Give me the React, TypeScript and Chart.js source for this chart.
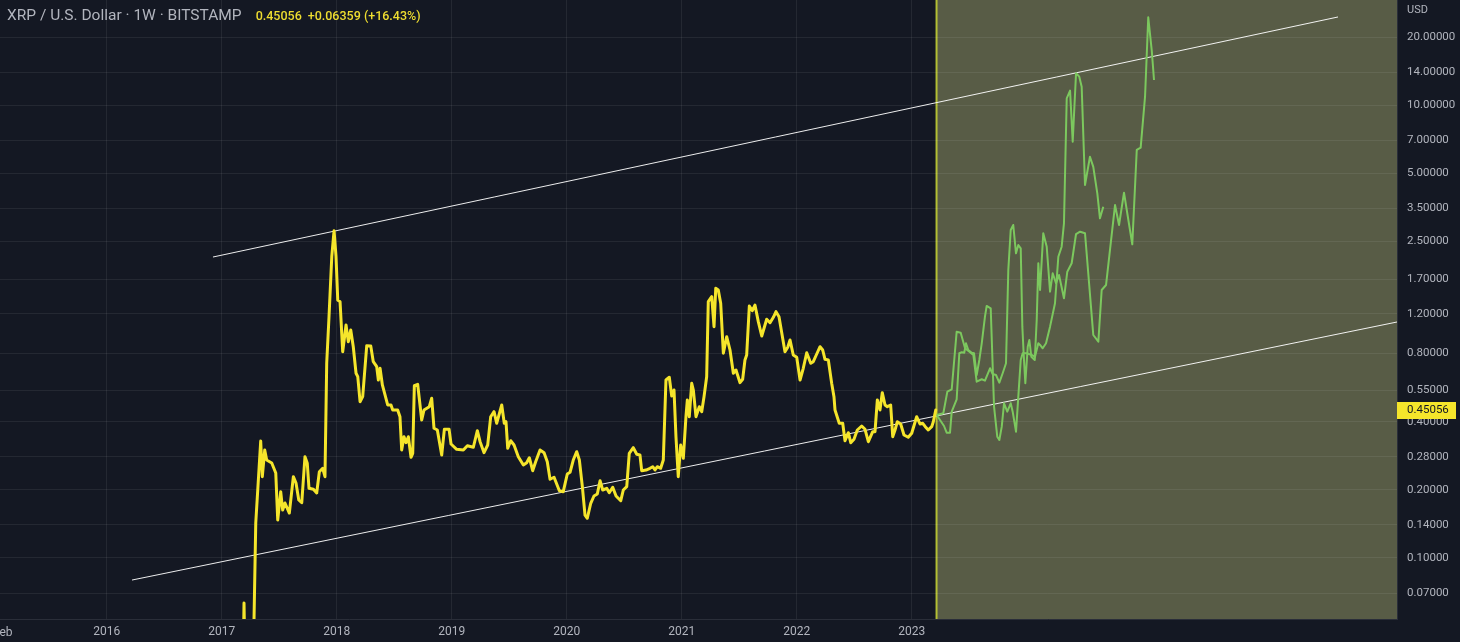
import React, { useEffect, useRef } from "react";
import { Chart, registerables } from "chart.js";

Chart.register(...registerables);

// ---- Data (x in fractional years, y in USD) ----
const xrpWeeks = [
  2017.120, 2017.168, 2017.194, 2017.220, 2017.250, 2017.272, 2017.296, 2017.339, 2017.353, 2017.374,
  2017.391, 2017.435, 2017.470, 2017.487, 2017.513, 2017.530, 2017.550, 2017.588, 2017.623, 2017.646,
  2017.670, 2017.696, 2017.724, 2017.744, 2017.759, 2017.797, 2017.826, 2017.849, 2017.878, 2017.898,
  2017.913, 2017.933, 2017.957, 2017.977, 2017.994, 2018.009, 2018.029, 2018.052, 2018.081, 2018.101,
  2018.122, 2018.144, 2018.168, 2018.183, 2018.203, 2018.226, 2018.261, 2018.296, 2018.318, 2018.348,
  2018.362, 2018.377, 2018.397, 2018.420, 2018.443, 2018.472, 2018.487, 2018.530, 2018.550, 2018.565,
  2018.585, 2018.603, 2018.623, 2018.646, 2018.661, 2018.675, 2018.704, 2018.739, 2018.759, 2018.805,
  2018.826, 2018.846, 2018.875, 2018.913, 2018.936, 2018.977, 2018.994, 2019.043, 2019.101, 2019.136,
  2019.188, 2019.223, 2019.246, 2019.281, 2019.313, 2019.339, 2019.368, 2019.391, 2019.435, 2019.457,
  2019.472, 2019.487, 2019.513, 2019.542, 2019.579, 2019.623, 2019.652, 2019.675, 2019.704, 2019.730,
  2019.768, 2019.803, 2019.831, 2019.855, 2019.890, 2019.936, 2019.970, 2020.005, 2020.029, 2020.057,
  2020.087, 2020.110, 2020.136, 2020.159, 2020.179, 2020.209, 2020.237, 2020.266, 2020.290, 2020.313,
  2020.348, 2020.370, 2020.400, 2020.429, 2020.470, 2020.492, 2020.522, 2020.544, 2020.579, 2020.609,
  2020.637, 2020.652, 2020.690, 2020.724, 2020.748, 2020.768, 2020.788, 2020.817, 2020.840, 2020.863,
  2020.892, 2020.913, 2020.933, 2020.950, 2020.970, 2020.991, 2021.014, 2021.037, 2021.049, 2021.066,
  2021.087, 2021.101, 2021.124, 2021.153, 2021.174, 2021.194, 2021.217, 2021.231, 2021.261, 2021.281,
  2021.296, 2021.318, 2021.339, 2021.362, 2021.391, 2021.420, 2021.449, 2021.472, 2021.507, 2021.530,
  2021.550, 2021.565, 2021.588, 2021.614, 2021.637, 2021.666, 2021.696, 2021.739, 2021.768, 2021.797,
  2021.820, 2021.846, 2021.898, 2021.922, 2021.942, 2021.970, 2022.000, 2022.029, 2022.057, 2022.087,
  2022.122, 2022.144, 2022.174, 2022.203, 2022.226, 2022.246, 2022.275, 2022.304, 2022.324, 2022.333,
  2022.370, 2022.400, 2022.420, 2022.449, 2022.470, 2022.498, 2022.527, 2022.565, 2022.594, 2022.623,
  2022.661, 2022.681, 2022.701, 2022.724, 2022.744, 2022.768, 2022.788, 2022.817, 2022.835, 2022.855,
  2022.875, 2022.904, 2022.933, 2022.970, 2023.000, 2023.043, 2023.072, 2023.096, 2023.118, 2023.144,
  2023.174, 2023.188, 2023.209,
];
const xrpClose = [
  0.0065, 0.007, 0.0632, 0.008, 0.012, 0.03, 0.1427, 0.3286, 0.2285, 0.2998,
  0.2708, 0.2627, 0.2372, 0.1471, 0.1962, 0.1628, 0.1749, 0.1579, 0.2285, 0.2144,
  0.1803, 0.1754, 0.2800, 0.2619, 0.2031, 0.2010, 0.1936, 0.2404, 0.2489, 0.2285,
  0.7244, 1.163, 2.141, 2.789, 2.141, 1.379, 1.355, 0.8148, 1.069, 0.902,
  1.016, 0.857, 0.6543, 0.6319, 0.4901, 0.5157, 0.866, 0.863, 0.736, 0.6995,
  0.6111, 0.6883, 0.5808, 0.5246, 0.4739, 0.4739, 0.4504, 0.4504, 0.4206, 0.2998,
  0.3432, 0.3229, 0.3432, 0.2784, 0.2899, 0.5767, 0.5849, 0.4068, 0.4504, 0.4657,
  0.5073, 0.3739, 0.3675, 0.2849, 0.3701, 0.3701, 0.3187, 0.3020, 0.2998, 0.3132,
  0.3083, 0.3649, 0.3270, 0.2917, 0.3154, 0.4206, 0.4427, 0.3934, 0.4739, 0.3934,
  0.3998, 0.3050, 0.3295, 0.3154, 0.2800, 0.2574, 0.2635, 0.2772, 0.2429, 0.2662,
  0.2998, 0.2917, 0.2662, 0.2226, 0.2272, 0.1982, 0.1962, 0.2349, 0.2390, 0.2708,
  0.2947, 0.2708, 0.2064, 0.1547, 0.1497, 0.1744, 0.1878, 0.1916, 0.2194, 0.1996,
  0.2031, 0.1942, 0.2052, 0.1878, 0.1790, 0.1996, 0.2064, 0.2899, 0.3069, 0.2870,
  0.2849, 0.2429, 0.2446, 0.2489, 0.2529, 0.2446, 0.2529, 0.2489, 0.2708, 0.6111,
  0.6282, 0.5193, 0.5520, 0.3432, 0.2285, 0.3154, 0.2755, 0.4206, 0.4986, 0.4206,
  0.5909, 0.5520, 0.4206, 0.4657, 0.4427, 0.5157, 0.6319, 1.355, 1.426, 1.051,
  1.553, 1.526, 1.334, 0.8017, 0.949, 0.8290, 0.6543, 0.6765, 0.5945, 0.6155,
  0.7490, 0.7879, 1.297, 1.236, 1.310, 1.106, 0.956, 1.133, 1.094, 1.156,
  1.224, 1.163, 0.8148, 0.852, 0.9178, 0.7879, 0.770, 0.6111, 0.6883, 0.8065,
  0.7244, 0.7362, 0.796, 0.857, 0.8290, 0.7544, 0.7490, 0.5909, 0.5157, 0.4504,
  0.3934, 0.3934, 0.3295, 0.3575, 0.3229, 0.3343, 0.3675, 0.3827, 0.3701, 0.3262,
  0.3612, 0.3612, 0.4986, 0.4504, 0.537, 0.4739, 0.4657, 0.4739, 0.3432, 0.3675,
  0.3998, 0.3906, 0.3493, 0.3412, 0.3554, 0.4206, 0.3906, 0.3934, 0.3800, 0.3675,
  0.3800, 0.3998, 0.45056,
];

const projAWeeks = [
  2023.217, 2023.275, 2023.310, 2023.348, 2023.391, 2023.426, 2023.464, 2023.507, 2023.536, 2023.565,
  2023.609, 2023.637, 2023.681, 2023.704, 2023.733, 2023.762, 2023.791, 2023.820, 2023.840, 2023.861,
  2023.883, 2023.907, 2023.927, 2023.948, 2023.962, 2023.974, 2023.988, 2024.009, 2024.023, 2024.040,
  2024.070, 2024.087, 2024.101, 2024.116, 2024.144, 2024.174, 2024.203, 2024.226, 2024.255, 2024.281,
  2024.324, 2024.353, 2024.391, 2024.429, 2024.464, 2024.507, 2024.579, 2024.623, 2024.652, 2024.690,
  2024.768, 2024.803, 2024.846, 2024.884, 2024.918, 2024.957, 2024.991, 2025.029, 2025.057, 2025.087,
  2025.107,
];
const projAClose = [
  0.428, 0.4356, 0.5426, 0.556, 0.9986, 0.9884, 0.8434, 0.8099, 0.7879, 0.6006,
  0.6155, 0.6067, 0.6883, 0.6495, 0.643, 0.5945, 0.6543, 0.7244, 1.870, 2.809,
  2.956, 2.217, 2.411, 2.332, 1.051, 0.7879, 0.5909, 0.857, 0.9178, 0.7745,
  0.7490, 1.125, 2.003, 1.526, 2.717, 2.370, 1.500, 1.809, 1.634, 1.777,
  1.403, 1.838, 2.003, 2.697, 2.761, 2.717, 0.9656, 0.9021, 1.526, 1.606,
  3.621, 2.956, 4.105, 3.11, 2.428, 6.34, 6.49, 10.90, 24.44, 17.52,
  12.91,
];

const projBWeeks = [
  2023.217, 2023.281, 2023.304, 2023.333, 2023.348, 2023.391, 2023.414, 2023.435, 2023.457, 2023.472,
  2023.492, 2023.522, 2023.542, 2023.565, 2023.588, 2023.609, 2023.637, 2023.652, 2023.687, 2023.716,
  2023.744, 2023.762, 2023.783, 2023.803, 2023.831, 2023.861, 2023.878, 2023.907, 2023.927, 2023.948,
  2023.965, 2024.000, 2024.043, 2024.072, 2024.101, 2024.116, 2024.139, 2024.168, 2024.203, 2024.246,
  2024.275, 2024.304, 2024.324, 2024.348, 2024.377, 2024.400, 2024.429, 2024.457, 2024.478, 2024.507,
  2024.550, 2024.579, 2024.614, 2024.637, 2024.666,
];
const projBClose = [
  0.428, 0.3827, 0.3575, 0.3575, 0.4427, 0.5022, 0.8017, 0.8099, 0.8065, 0.8876,
  0.8290, 0.8065, 0.8017, 0.643, 0.7490, 0.8876, 1.163, 1.297, 1.267, 0.4657,
  0.3432, 0.3319, 0.3800, 0.4822, 0.4427, 0.4822, 0.4427, 0.3612, 0.5157, 0.7490,
  0.8017, 0.8017, 0.7879, 0.7745, 0.8876, 0.8723, 0.8434, 0.8876, 1.051, 1.334,
  2.141, 2.370, 3.008, 10.72, 11.59, 6.90, 13.83, 13.36, 12.07, 4.44,
  5.92, 5.34, 4.08, 3.164, 3.56,
];

const upperTrendWeeks = [2016.924, 2026.707];
const upperTrendValues = [2.134, 24.52];
const lowerTrendWeeks = [2016.22, 2027.22];
const lowerTrendValues = [0.07989, 1.102];

const yearTicks = [2016, 2017, 2018, 2019, 2020, 2021, 2022, 2023];
const priceTicks = [0.07, 0.1, 0.14, 0.2, 0.28, 0.4, 0.55, 0.8, 1.2, 1.7, 2.5, 3.5, 5, 7, 10, 14, 20];

const lastPrice = 0.45056;
const projectionStart = 2023.216;
const xMin = 2015.072;
const xMax = 2027.22;
const yMin = 0.05375;
const yMax = 29.14;

const BG = "#141823";
const GRID = "rgba(255,255,255,0.07)";
const TEXT = "#b2b5be";
const YELLOW = "#f5e52b";
const GREEN = "#7cc85e";

const toPoints = (xs: number[], ys: number[]) => xs.map((x, i) => ({ x, y: ys[i] }));

export default function App() {
  const canvasRef = useRef<HTMLCanvasElement | null>(null);

  useEffect(() => {
    const canvas = canvasRef.current;
    if (!canvas) return;

    const shadePlugin = {
      id: "projectionShade",
      beforeDraw(chart: any) {
        const { ctx, chartArea, scales } = chart;
        const x0 = scales.x.getPixelForValue(projectionStart);
        ctx.save();
        ctx.fillStyle = "#585c46";
        ctx.fillRect(x0, chartArea.top, chartArea.right - x0, chartArea.bottom - chartArea.top);
        ctx.strokeStyle = "#b3bf34";
        ctx.lineWidth = 2;
        ctx.beginPath();
        ctx.moveTo(x0, chartArea.top);
        ctx.lineTo(x0, chartArea.bottom);
        ctx.stroke();
        ctx.restore();
      },
      afterDraw(chart: any) {
        const { ctx, chartArea, scales } = chart;
        const y = scales.y.getPixelForValue(lastPrice);
        const x0 = chartArea.right;
        ctx.save();
        ctx.fillStyle = YELLOW;
        ctx.fillRect(x0, Math.round(y) - 8, 59, 17);
        ctx.fillStyle = "#131722";
        ctx.font = "11.5px Roboto";
        ctx.textBaseline = "middle";
        ctx.textAlign = "left";
        ctx.fillText(lastPrice.toFixed(5), x0 + 10, Math.round(y) + 0.5);
        ctx.restore();
      },
    };

    const chart = new Chart(canvas, {
      type: "line",
      data: {
        datasets: [
          {
            data: toPoints(xrpWeeks, xrpClose),
            borderColor: YELLOW,
            borderWidth: 3,
            pointRadius: 0,
            tension: 0,
            borderJoinStyle: "round",
            borderCapStyle: "round",
          },
          {
            data: toPoints(projAWeeks, projAClose),
            borderColor: GREEN,
            borderWidth: 2,
            pointRadius: 0,
            tension: 0,
            borderJoinStyle: "round",
          },
          {
            data: toPoints(projBWeeks, projBClose),
            borderColor: GREEN,
            borderWidth: 2,
            pointRadius: 0,
            tension: 0,
            borderJoinStyle: "round",
          },
          {
            data: toPoints(upperTrendWeeks, upperTrendValues),
            borderColor: "rgba(255,255,255,0.92)",
            borderWidth: 1,
            pointRadius: 0,
          },
          {
            data: toPoints(lowerTrendWeeks, lowerTrendValues),
            borderColor: "rgba(255,255,255,0.92)",
            borderWidth: 1,
            pointRadius: 0,
          },
        ],
      },
      options: {
        responsive: false,
        animation: false,
        devicePixelRatio: 1,
        layout: { padding: 0 },
        plugins: { legend: { display: false }, tooltip: { enabled: false }, title: { display: false } },
        events: [],
        scales: {
          x: {
            type: "linear",
            position: "bottom",
            min: xMin,
            max: xMax,
            grid: { color: GRID, drawTicks: false },
            border: { display: true, color: "#2a2e39" },
            afterBuildTicks: (scale: any) => {
              scale.ticks = yearTicks.map((v) => ({ value: v }));
            },
            afterFit: (scale: any) => {
              scale.height = 23;
              scale.paddingLeft = 0;
              scale.paddingRight = 0;
            },
            ticks: {
              autoSkip: false,
              maxRotation: 0,
              minRotation: 0,
              padding: 6,
              color: TEXT,
              font: { family: "Roboto", size: 12 },
              callback: (v: any) => String(v),
            },
          },
          y: {
            type: "logarithmic",
            position: "right",
            min: yMin,
            max: yMax,
            grid: { color: GRID, drawTicks: false },
            border: { display: true, color: "#2a2e39" },
            afterBuildTicks: (scale: any) => {
              scale.ticks = priceTicks.map((v) => ({ value: v }));
            },
            afterFit: (scale: any) => {
              scale.width = 63;
              scale.paddingTop = 0;
              scale.paddingBottom = 0;
            },
            ticks: {
              autoSkip: false,
              padding: 10,
              color: TEXT,
              font: { family: "Roboto", size: 11.5 },
              callback: (v: any) => Number(v).toFixed(5),
            },
          },
        },
      },
      plugins: [shadePlugin],
    } as any);

    return () => chart.destroy();
  }, []);

  return (
    <div
      style={{
        position: "fixed",
        left: 0,
        top: 0,
        width: 1460,
        height: 642,
        background: BG,
        overflow: "hidden",
        fontFamily: "Roboto, sans-serif",
      }}
    >
      <canvas ref={canvasRef} width={1460} height={642} style={{ display: "block", width: 1460, height: 642 }} />
      <div
        style={{
          position: "absolute",
          left: 7,
          top: 6,
          height: 18,
          lineHeight: "18px",
          whiteSpace: "nowrap",
          pointerEvents: "none",
        }}
      >
        <span style={{ color: TEXT, fontSize: 15.5 }}>XRP / U.S. Dollar · 1W · BITSTAMP</span>
        <span style={{ color: "#eedd30", fontSize: 12.5, fontWeight: 500, marginLeft: 14 }}>0.45056</span>
        <span style={{ color: "#eedd30", fontSize: 12.5, fontWeight: 500, marginLeft: 6 }}>+0.06359 (+16.43%)</span>
      </div>
      <div
        style={{
          position: "absolute",
          left: 1407,
          top: 3,
          color: TEXT,
          fontSize: 11,
          lineHeight: "14px",
          pointerEvents: "none",
        }}
      >
        USD
      </div>
      <div
        style={{
          position: "absolute",
          left: -7,
          top: 625,
          color: TEXT,
          fontSize: 12,
          lineHeight: "14px",
          pointerEvents: "none",
        }}
      >
        Feb
      </div>
    </div>
  );
}
